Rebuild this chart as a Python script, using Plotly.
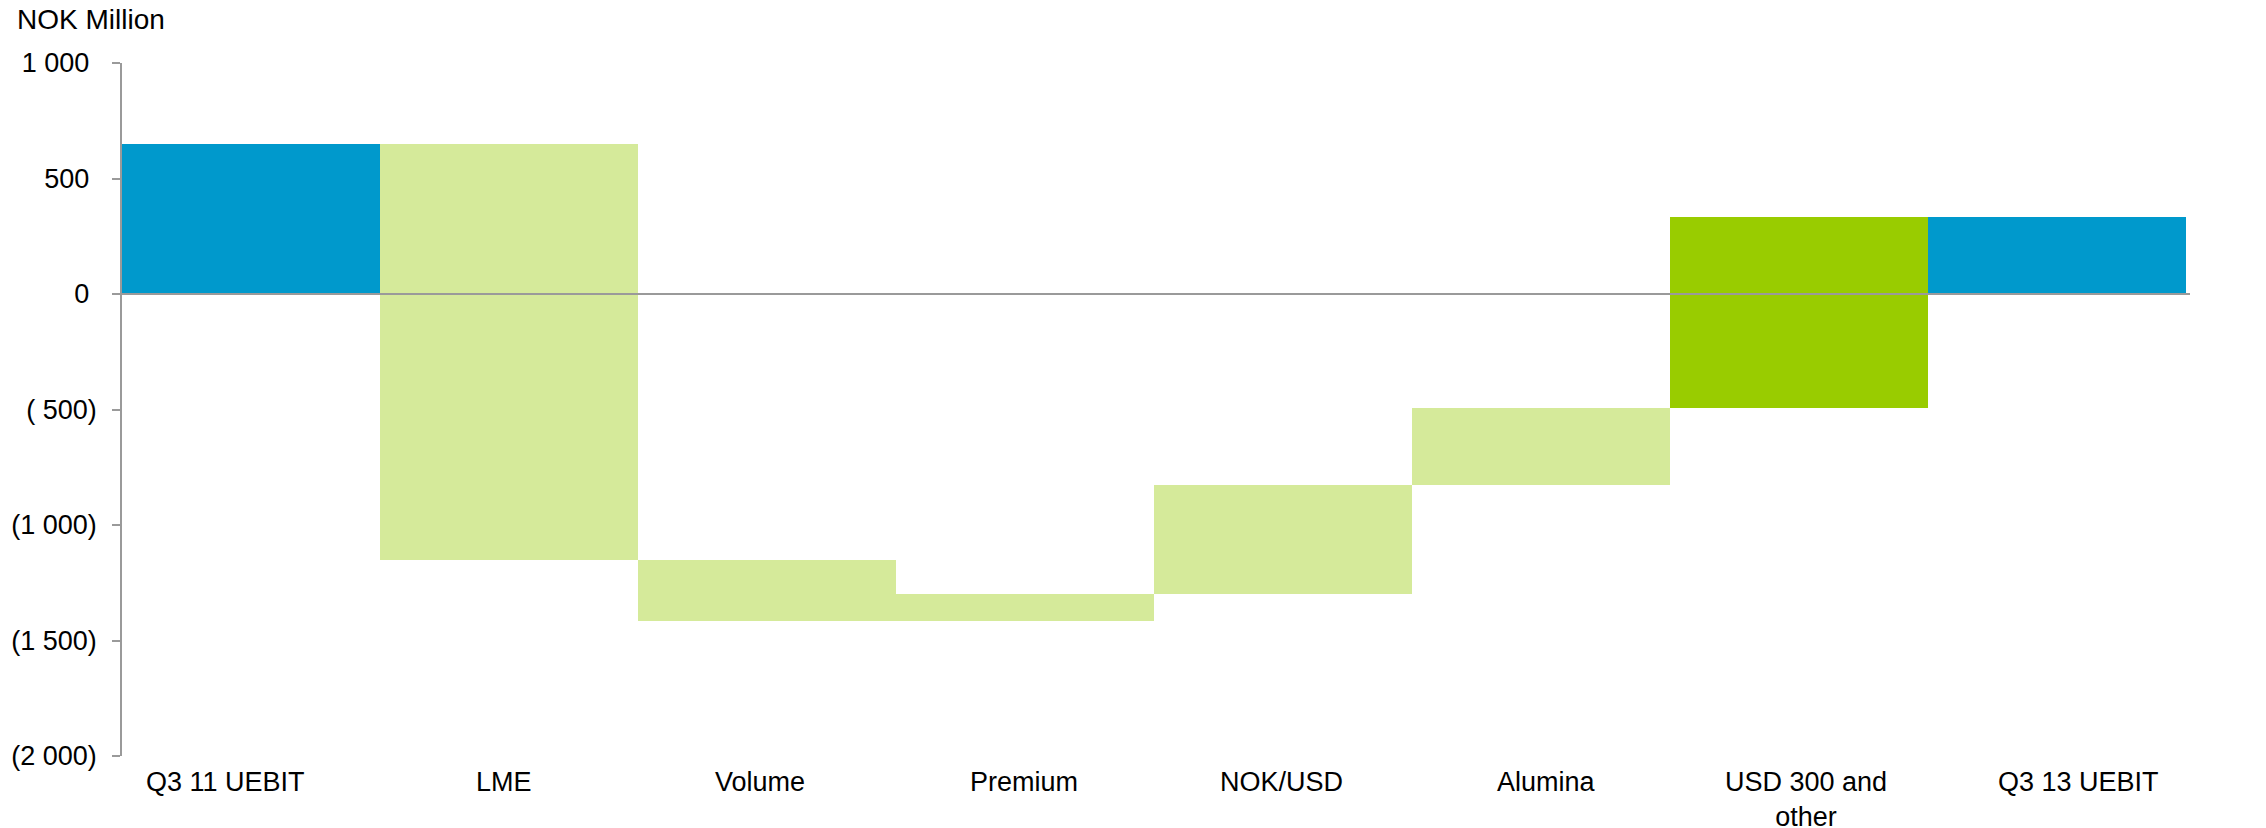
import plotly.graph_objects as go

categories = ["Q3 11 UEBIT", "LME", "Volume", "Premium", "NOK/USD", "Alumina",
              "USD 300 and<br>other", "Q3 13 UEBIT"]
measures = ["absolute", "relative", "relative", "relative", "relative", "relative",
            "relative", "total"]
values = [648, -1800, -262, 116, 472, 331, 830, None]
bar_colors = ["#0099CC", "#D5EA9A", "#D5EA9A", "#D5EA9A", "#D5EA9A", "#D5EA9A",
              "#99CC00", "#0099CC"]

y_tickvals = [1000, 500, 0, -500, -1000, -1500, -2000]
y_ticktext = ["1 000\u2008", "500\u2008", "0\u2008", "( 500)", "(1 000)", "(1 500)", "(2 000)"]

# horizontal nudges of the category labels (px), as laid out in the original
label_xshift = [-26, -5, -7, -1, -2, 5, 7, 21]

# build bases and heights from the data
bases, heights = [], []
running = 0
for m, v in zip(measures, values):
    if m == "absolute":
        bases.append(0)
        heights.append(v)
        running = v
    elif m == "relative":
        bases.append(running)
        heights.append(v)
        running += v
    else:
        bases.append(0)
        heights.append(running)

W, H = 2266, 828
ML, MR, MT, MB = 122, 76, 63, 72
PW, PH = W - ML - MR, H - MT - MB

fig = go.Figure()
fig.add_trace(go.Bar(
    x=categories, y=heights, base=bases, width=1.0,
    marker=dict(color=bar_colors, line=dict(width=0)),
    showlegend=False, hoverinfo="skip",
))

fig.add_shape(type="line", xref="paper", yref="y", x0=0, x1=1, y0=0, y1=0,
              line=dict(color="#9A9A9A", width=2), layer="above")

fig.add_annotation(text="NOK Million", xref="paper", yref="paper",
                   x=(15 - ML) / PW, y=1 + (MT - 2) / PH, xanchor="left", yanchor="top",
                   showarrow=False, font=dict(size=28, color="#000000"))

for cat, dx in zip(categories, label_xshift):
    fig.add_annotation(text=cat, xref="x", yref="paper", x=cat, y=0,
                       xanchor="center", yanchor="top", yshift=-9, xshift=dx,
                       showarrow=False, font=dict(size=27, color="#000000"))

font_family = "Liberation Sans, Arial, sans-serif"
fig.update_layout(
    width=W, height=H,
    margin=dict(l=ML, r=MR, t=MT, b=MB, autoexpand=False),
    paper_bgcolor="white", plot_bgcolor="white",
    font=dict(family=font_family, size=27, color="#000000"),
    bargap=0,
)
fig.update_xaxes(
    range=[-0.5, 7.515], showgrid=False, zeroline=False, showline=False,
    ticks="", showticklabels=False, automargin=False,
)
fig.update_yaxes(
    range=[-2000, 1000], tickvals=y_tickvals, ticktext=y_ticktext,
    showgrid=False, zeroline=False, showline=True, linecolor="#9A9A9A", linewidth=1.5,
    ticks="outside", ticklen=8, tickcolor="#9A9A9A", tickwidth=1.5,
    tickfont=dict(size=27), ticklabelstandoff=10, automargin=False,
)

fig.write_html("out.html", config={"displayModeBar": False},
               post_script="document.body.style.margin='0px';")
